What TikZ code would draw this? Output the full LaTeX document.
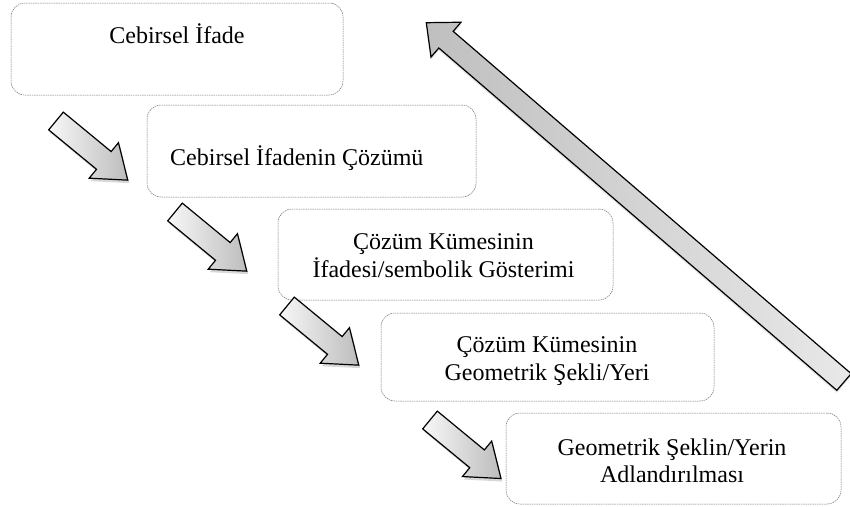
\documentclass[tikz,border=0pt]{standalone}
\usepackage{fontspec}
\setmainfont{Liberation Serif}
\usetikzlibrary{shadows}
\newcommand\arrowshape[4]{(0,-#2) -- (#1-#3,-#2) -- (#1-#3,-#4) -- (#1,0) -- (#1-#3,#4) -- (#1-#3,#2) -- (0,#2) -- cycle}
\begin{document}
\begin{tikzpicture}[x=1pt,y=-1pt,
  box/.style={draw=black!55, line width=0.5pt, dash pattern=on 1.5pt off 0.8pt,
    rounded corners=14pt, fill=white, inner sep=0pt, outer sep=0pt},
  lbl/.style={font=\fontsize{24}{28}\selectfont, inner sep=0pt, anchor=base},
  smallarr/.style={draw=black, line width=1.2pt, left color=gray!6, right color=gray!52,
    drop shadow={shadow xshift=1.5pt, shadow yshift=-3pt, opacity=0.3}},
  bigarr/.style={draw=black, line width=1.2pt, left color=gray!50, right color=gray!18,
    drop shadow={shadow xshift=0pt, shadow yshift=-2.5pt, opacity=0.2}}]
\fill[white] (0,0) rectangle (850,506);
\useasboundingbox (0,0) rectangle (850,506);
% boxes
\node[box, minimum width=332pt, minimum height=92pt] (b1) at (177,49) {};
\node[box, minimum width=329pt, minimum height=92pt] (b2) at (311.5,151) {};
\node[box, minimum width=335pt, minimum height=91pt] (b3) at (445.5,254.5) {};
\node[box, minimum width=333pt, minimum height=88pt] (b4) at (547.5,357) {};
\node[box, minimum width=335pt, minimum height=91pt] (b5) at (673.5,458.5) {};
% texts
\node[lbl] (t1) at (177,43) {Cebirsel İfade};
\node[lbl, anchor=base west] (t2) at (170,165) {Cebirsel İfadenin Çözümü};
\node[lbl] (t3a) at (443.5,249) {Çözüm Kümesinin};
\node[lbl] (t3b) at (443.5,277) {İfadesi/sembolik Gösterimi};
\node[lbl] (t4a) at (547,352) {Çözüm Kümesinin};
\node[lbl] (t4b) at (547,380) {Geometrik Şekli/Yeri};
\node[lbl] (t5a) at (672,455) {Geometrik Şeklin/Yerin};
\node[lbl] (t5b) at (672,482) {Adlandırılması};
% small block arrows
\path[smallarr, shift={(56,121)}, rotate=-39.5] \arrowshape{93}{11.5}{31}{23};
\path[smallarr, shift={(175,212)}, rotate=-39.5] \arrowshape{93}{11.5}{31}{23};
\path[smallarr, shift={(287,306)}, rotate=-39.5] \arrowshape{93}{11.5}{31}{23};
\path[smallarr, shift={(430,420)}, rotate=-39.5] \arrowshape{92}{11.5}{31}{23};
% big return arrow
\path[bigarr, shift={(844,382)}, rotate=139.3] \arrowshape{551}{11}{26}{23};
\end{tikzpicture}
\end{document}
